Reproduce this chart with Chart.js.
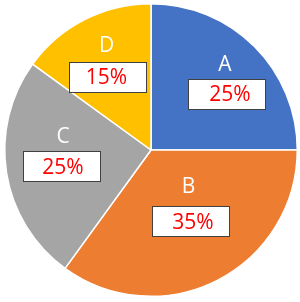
<!DOCTYPE html>
<html>
<head>
<meta charset="utf-8">
<script src="https://cdn.jsdelivr.net/npm/chart.js@4"></script>
<style>
  html, body { margin: 0; padding: 0; background: #fff; }
  #wrap { width: 300px; height: 302px; }
</style>
</head>
<body>
<div id="wrap"><canvas id="pie" width="300" height="302"></canvas></div>
<script>
// ---- data ----
const categories = ["A", "B", "C", "D"];
const shares = [25, 35, 25, 15];
const sliceColors = ["#4472C4", "#ED7D31", "#A5A5A5", "#FFC000"];

// label placement, offset from the pie centre (px)
const labelLayout = [
  { letter: [74, -84.5], box: [75.5, -56], text: [79, -55.5] },
  { letter: [37.5, 37],  box: [39, 71],    text: [42, 72] },
  { letter: [-88, -13],  box: [-89.5, 16], text: [-88, 17] },
  { letter: [-44.5, -104], box: [-44, -73], text: [-44.5, -73] }
];

const boxLabels = {
  id: "boxLabels",
  afterDatasetsDraw(chart) {
    const ctx = chart.ctx;
    const meta = chart.getDatasetMeta(0);
    const cx = meta.data[0].x, cy = meta.data[0].y;
    ctx.save();
    ctx.textAlign = "center";
    ctx.textBaseline = "middle";
    meta.data.forEach((arc, i) => {
      const L = labelLayout[i];
      // category letter
      ctx.fillStyle = "#ffffff";
      ctx.font = "21px 'Open Sans'";
      ctx.fillText(categories[i], cx + L.letter[0], cy + L.letter[1]);
      // white box
      const bw = 77, bh = 30;
      const bx = Math.round(cx + L.box[0] - bw / 2) + 0.5;
      const by = Math.round(cy + L.box[1] - bh / 2) + 0.5;
      ctx.fillStyle = "#ffffff";
      ctx.fillRect(bx, by, bw, bh);
      ctx.strokeStyle = "#404040";
      ctx.lineWidth = 1;
      ctx.strokeRect(bx, by, bw, bh);
      // percentage
      ctx.fillStyle = "#FF0000";
      ctx.font = "21px 'Open Sans'";
      ctx.fillText(shares[i] + "%", cx + L.text[0], cy + L.text[1] + 1);
    });
    ctx.restore();
  }
};

new Chart(document.getElementById("pie").getContext("2d"), {
  type: "pie",
  data: {
    labels: categories,
    datasets: [{
      data: shares,
      backgroundColor: sliceColors,
      borderColor: "#ffffff",
      borderWidth: 1.5
    }]
  },
  options: {
    responsive: false,
    animation: false,
    layout: { padding: { left: 4, right: 2, top: 3, bottom: 5 } },
    plugins: {
      legend: { display: false },
      tooltip: { enabled: false }
    }
  },
  plugins: [boxLabels]
});
</script>
</body>
</html>
